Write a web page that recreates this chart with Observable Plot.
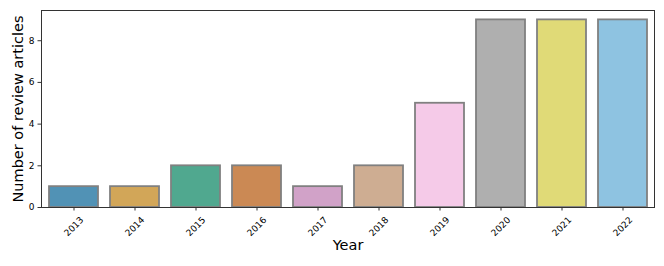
<!DOCTYPE html>
<html>
<head>
<meta charset="utf-8">
<script src="https://cdn.jsdelivr.net/npm/d3@7"></script>
<script src="https://cdn.jsdelivr.net/npm/@observablehq/plot@0.6"></script>
<style>
  html, body { margin: 0; padding: 0; background: #fff; }
  #chart svg { font-family: "DejaVu Sans", sans-serif; display: block; }
</style>
</head>
<body>
<div id="chart"></div>
<script>
const years = ["2013","2014","2015","2016","2017","2018","2019","2020","2021","2022"];
const counts = [1, 1, 2, 2, 1, 2, 5, 9, 9, 9];
const palette = ["#0173b2","#de8f05","#029e73","#d55e00","#cc78bc","#ca9161","#fbafe4","#949494","#ece133","#56b4e9"];
const yTicks = [0, 2, 4, 6, 8];

// seaborn-style desaturation (saturation = 0.75)
const desat = palette.map(c => { const h = d3.hsl(c); h.s *= 0.75; return h.formatHex(); });

const data = years.map((y, i) => ({year: y, count: counts[i]}));

const chart = Plot.plot({
  width: 664,
  height: 266,
  marginLeft: 41,
  marginRight: 10,
  marginTop: 10,
  marginBottom: 59,
  style: {fontFamily: "DejaVu Sans, sans-serif", color: "#000", background: "#fff"},
  x: {domain: years, paddingInner: 0.2, paddingOuter: 0.1},
  y: {domain: [0, 9.45]},
  color: {domain: years, range: desat},
  marks: [
    Plot.barY(data, {x: "year", y: "count", fill: "year", fillOpacity: 0.75, stroke: "#808080", strokeWidth: 1.8}),
    Plot.frame({stroke: "#333", strokeWidth: 1}),
    Plot.axisY({ticks: yTicks, tickSize: 3.5, tickPadding: 3.5, fontSize: 9, label: null, stroke: "#333"}),
    Plot.axisX({tickSize: 3.5, label: null, tickFormat: () => "", stroke: "#333"}),
    Plot.text(years, {x: d => d, frameAnchor: "bottom", rotate: -45, textAnchor: "end", lineAnchor: "middle", dx: 8, dy: 11, fontSize: 9, fill: "#000"}),
    Plot.text(["Year"], {frameAnchor: "bottom", dy: 32, lineAnchor: "top", fontSize: 14.5, fill: "#000"}),
    Plot.text(["Number of review articles"], {frameAnchor: "left", rotate: -90, dx: -23, textAnchor: "middle", lineAnchor: "middle", fontSize: 14.5, fill: "#000"})
  ]
});
document.getElementById("chart").append(chart);
</script>
</body>
</html>
